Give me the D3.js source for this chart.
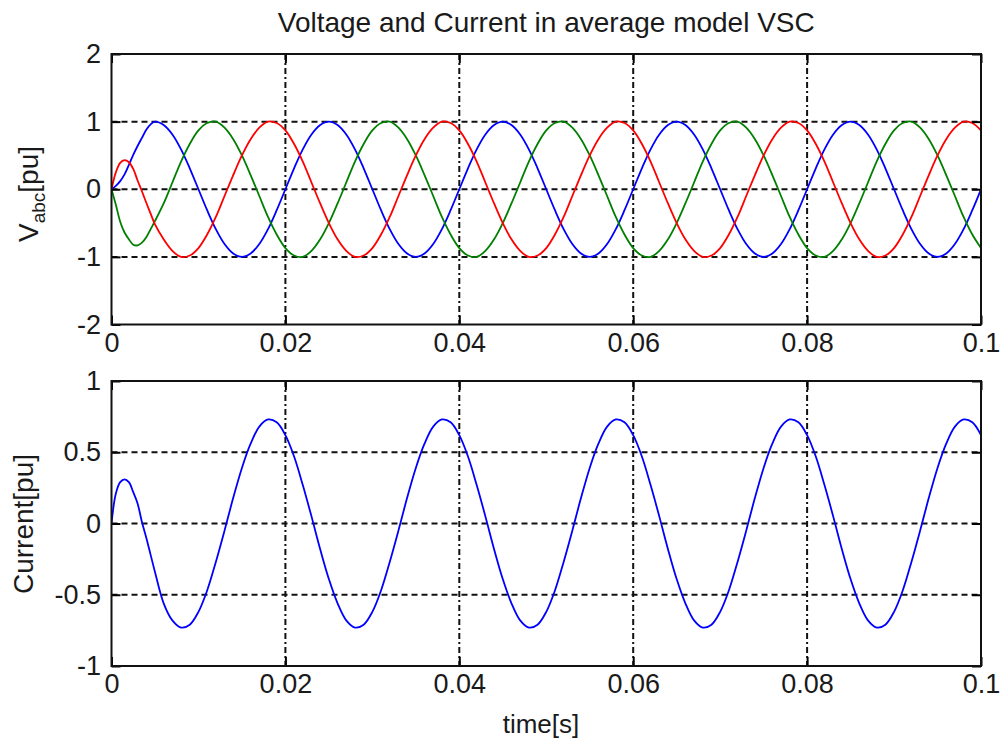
<!DOCTYPE html>
<html>
<head>
<meta charset="utf-8">
<script src="https://cdn.jsdelivr.net/npm/d3@7"></script>
<style>
  html, body { margin: 0; padding: 0; background: #fff; }
  svg { display: block; }
  text { font-family: "Liberation Sans", Arial, Helvetica, sans-serif; fill: #1a1a1a; }
</style>
</head>
<body>
<svg id="chart" width="1003" height="745"></svg>
<script>
// ---------------- data (time in milliseconds) ----------------
const timeMs = [0,0.5,1,1.5,2,2.5,3,3.5,4,4.5,5,
  6,7,8,9,10,11,12,13,14,15,16,17,18,19,
  20,21,22,23,24,25,26,27,28,29,30,31,32,33,34,35,36,37,38,39,
  40,41,42,43,44,45,46,47,48,49,50,51,52,53,54,55,56,57,58,59,
  60,61,62,63,64,65,66,67,68,69,70,71,72,73,74,75,76,77,78,79,
  80,81,82,83,84,85,86,87,88,89,90,91,92,93,94,95,96,97,98,99,
  100];

const vBlue = [0,0.05,0.12,0.22,0.36,0.51,0.64,0.76,0.88,0.96,1,
  0.95,0.81,0.59,0.31,0,-0.31,-0.59,-0.81,-0.95,-1,-0.95,-0.81,-0.59,-0.31,
  0,0.31,0.59,0.81,0.95,1,0.95,0.81,0.59,0.31,0,-0.31,-0.59,-0.81,-0.95,-1,-0.95,-0.81,-0.59,-0.31,
  0,0.31,0.59,0.81,0.95,1,0.95,0.81,0.59,0.31,0,-0.31,-0.59,-0.81,-0.95,-1,-0.95,-0.81,-0.59,-0.31,
  0,0.31,0.59,0.81,0.95,1,0.95,0.81,0.59,0.31,0,-0.31,-0.59,-0.81,-0.95,-1,-0.95,-0.81,-0.59,-0.31,
  0,0.31,0.59,0.81,0.95,1,0.95,0.81,0.59,0.31,0,-0.31,-0.59,-0.81,-0.95,-1,-0.95,-0.81,-0.59,-0.31,
  0];

const vGreen = [0,-0.23,-0.48,-0.64,-0.74,-0.82,-0.83,-0.79,-0.71,-0.59,-0.47,
  -0.21,0.10,0.41,0.67,0.87,0.98,1,0.91,0.74,0.50,0.21,-0.10,-0.41,-0.67,
  -0.87,-0.98,-1,-0.91,-0.74,-0.50,-0.21,0.10,0.41,0.67,0.87,0.98,1,0.91,0.74,0.50,0.21,-0.10,-0.41,-0.67,
  -0.87,-0.98,-1,-0.91,-0.74,-0.50,-0.21,0.10,0.41,0.67,0.87,0.98,1,0.91,0.74,0.50,0.21,-0.10,-0.41,-0.67,
  -0.87,-0.98,-1,-0.91,-0.74,-0.50,-0.21,0.10,0.41,0.67,0.87,0.98,1,0.91,0.74,0.50,0.21,-0.10,-0.41,-0.67,
  -0.87,-0.98,-1,-0.91,-0.74,-0.50,-0.21,0.10,0.41,0.67,0.87,0.98,1,0.91,0.74,0.50,0.21,-0.10,-0.41,-0.67,
  -0.87];

const vRed = [0,0.25,0.39,0.43,0.40,0.30,0.13,-0.03,-0.20,-0.36,-0.52,
  -0.74,-0.91,-1,-0.98,-0.87,-0.67,-0.41,-0.10,0.21,0.50,0.74,0.91,1,0.98,
  0.87,0.67,0.41,0.10,-0.21,-0.50,-0.74,-0.91,-1,-0.98,-0.87,-0.67,-0.41,-0.10,0.21,0.50,0.74,0.91,1,0.98,
  0.87,0.67,0.41,0.10,-0.21,-0.50,-0.74,-0.91,-1,-0.98,-0.87,-0.67,-0.41,-0.10,0.21,0.50,0.74,0.91,1,0.98,
  0.87,0.67,0.41,0.10,-0.21,-0.50,-0.74,-0.91,-1,-0.98,-0.87,-0.67,-0.41,-0.10,0.21,0.50,0.74,0.91,1,0.98,
  0.87,0.67,0.41,0.10,-0.21,-0.50,-0.74,-0.91,-1,-0.98,-0.87,-0.67,-0.41,-0.10,0.21,0.50,0.74,0.91,1,0.98,
  0.87];

const current = [0,0.21,0.29,0.31,0.29,0.22,0.14,0.01,-0.10,-0.22,-0.34,
  -0.56,-0.68,-0.73,-0.71,-0.62,-0.47,-0.27,-0.05,0.18,0.39,0.56,0.68,0.73,0.71,
  0.62,0.47,0.27,0.05,-0.18,-0.39,-0.56,-0.68,-0.73,-0.71,-0.62,-0.47,-0.27,-0.05,0.18,0.39,0.56,0.68,0.73,0.71,
  0.62,0.47,0.27,0.05,-0.18,-0.39,-0.56,-0.68,-0.73,-0.71,-0.62,-0.47,-0.27,-0.05,0.18,0.39,0.56,0.68,0.73,0.71,
  0.62,0.47,0.27,0.05,-0.18,-0.39,-0.56,-0.68,-0.73,-0.71,-0.62,-0.47,-0.27,-0.05,0.18,0.39,0.56,0.68,0.73,0.71,
  0.62,0.47,0.27,0.05,-0.18,-0.39,-0.56,-0.68,-0.73,-0.71,-0.62,-0.47,-0.27,-0.05,0.18,0.39,0.56,0.68,0.73,0.71,
  0.62];

const xTicks = [0,20,40,60,80,100];
const xTickLabels = ["0","0.02","0.04","0.06","0.08","0.1"];
const yTopTicks = [-2,-1,0,1,2];
const yTopTickLabels = ["-2","-1","0","1","2"];
const yBotTicks = [-1,-0.5,0,0.5,1];
const yBotTickLabels = ["-1","-0.5","0","0.5","1"];

const titleText = "Voltage and Current in average model VSC";
const xLabelText = "time[s]";
const currentLabelText = "Current[pu]";

// ---------------- layout ----------------
const svg = d3.select("#chart");
svg.append("rect").attr("width",1003).attr("height",745).attr("fill","#fff");

const L = 111.5, R = 981;
const x = d3.scaleLinear().domain([0,100]).range([L,R]);
const panels = [
  {top:54, bottom:324.5, y:d3.scaleLinear().domain([-2,2]).range([324.5,54]),
   ticks:yTopTicks, labels:yTopTickLabels,
   series:[{v:vBlue,c:"#0000ff"},{v:vGreen,c:"#008000"},{v:vRed,c:"#ff0000"}]},
  {top:381, bottom:666, y:d3.scaleLinear().domain([-1,1]).range([666,381]),
   ticks:yBotTicks, labels:yBotTickLabels,
   series:[{v:current,c:"#0000ff"}]}
];

const tickFont = 27;
panels.forEach(p => {
  const g = svg.append("g");
  // grid
  const grid = g.append("g").attr("stroke","#111").attr("stroke-width",2);
  grid.selectAll("line.h").data(p.ticks.slice(1,-1)).join("line")
    .attr("x1",L).attr("x2",R).attr("y1",d=>p.y(d)).attr("y2",d=>p.y(d))
    .attr("stroke-dasharray","6,4");
  grid.selectAll("line.v").data(xTicks.slice(1,-1)).join("line")
    .attr("y1",p.top).attr("y2",p.bottom).attr("x1",d=>x(d)).attr("x2",d=>x(d))
    .attr("stroke-dasharray","6,3,2,3");

  // series
  const clipId = "clip"+p.top;
  svg.append("clipPath").attr("id",clipId).append("rect")
    .attr("x",L).attr("y",p.top).attr("width",R-L).attr("height",p.bottom-p.top);
  const line = d3.line().x((d,i)=>x(timeMs[i])).y(d=>p.y(d)).curve(d3.curveCatmullRom.alpha(0.5));
  p.series.forEach(s => {
    g.append("path").attr("d",line(s.v)).attr("fill","none")
      .attr("stroke",s.c).attr("stroke-width",1.8).attr("clip-path","url(#"+clipId+")");
  });

  // axes
  const ax = (gen, tx, ty) => g.append("g").attr("transform",`translate(${tx},${ty})`).call(gen);
  const bottomAx = ax(d3.axisBottom(x).tickValues(xTicks).tickFormat((d,i)=>xTickLabels[i])
      .tickSizeInner(-9).tickSizeOuter(0).tickPadding(8), 0, p.bottom);
  const topAx = ax(d3.axisTop(x).tickValues(xTicks).tickFormat("").tickSizeInner(-9).tickSizeOuter(0), 0, p.top);
  const leftAx = ax(d3.axisLeft(p.y).tickValues(p.ticks).tickFormat((d,i)=>p.labels[i])
      .tickSizeInner(-9).tickSizeOuter(0).tickPadding(10), L, 0);
  const rightAx = ax(d3.axisRight(p.y).tickValues(p.ticks).tickFormat("").tickSizeInner(-9).tickSizeOuter(0), R, 0);
  [bottomAx, topAx, leftAx, rightAx].forEach(a => {
    a.select(".domain").remove();
    a.selectAll(".tick line").attr("stroke","#000").attr("stroke-width",2);
    a.selectAll("text").attr("font-size",tickFont).attr("fill","#1a1a1a")
      .attr("font-family","'Liberation Sans', Arial, sans-serif");
  });
  leftAx.selectAll("text").attr("x",-10.5);

  // frame
  g.append("rect").attr("x",L).attr("y",p.top).attr("width",R-L).attr("height",p.bottom-p.top)
    .attr("fill","none").attr("stroke","#111").attr("stroke-width",2);
});

// title
svg.append("text").attr("x",(L+R)/2).attr("y",32).attr("text-anchor","middle")
  .attr("font-size",28).text(titleText);

// x label
svg.append("text").attr("x",541).attr("y",733).attr("text-anchor","middle")
  .attr("font-size",26).text(xLabelText);

// y labels
const vl = svg.append("text").attr("transform","translate(38,194) rotate(-90)")
  .attr("text-anchor","middle").attr("font-size",28);
vl.append("tspan").text("V");
vl.append("tspan").attr("font-size",19).attr("dy",7).text("abc");
vl.append("tspan").attr("dy",-7).text("[pu]");

svg.append("text").attr("transform","translate(33,524) rotate(-90)")
  .attr("text-anchor","middle").attr("font-size",28).text(currentLabelText);
</script>
</body>
</html>
